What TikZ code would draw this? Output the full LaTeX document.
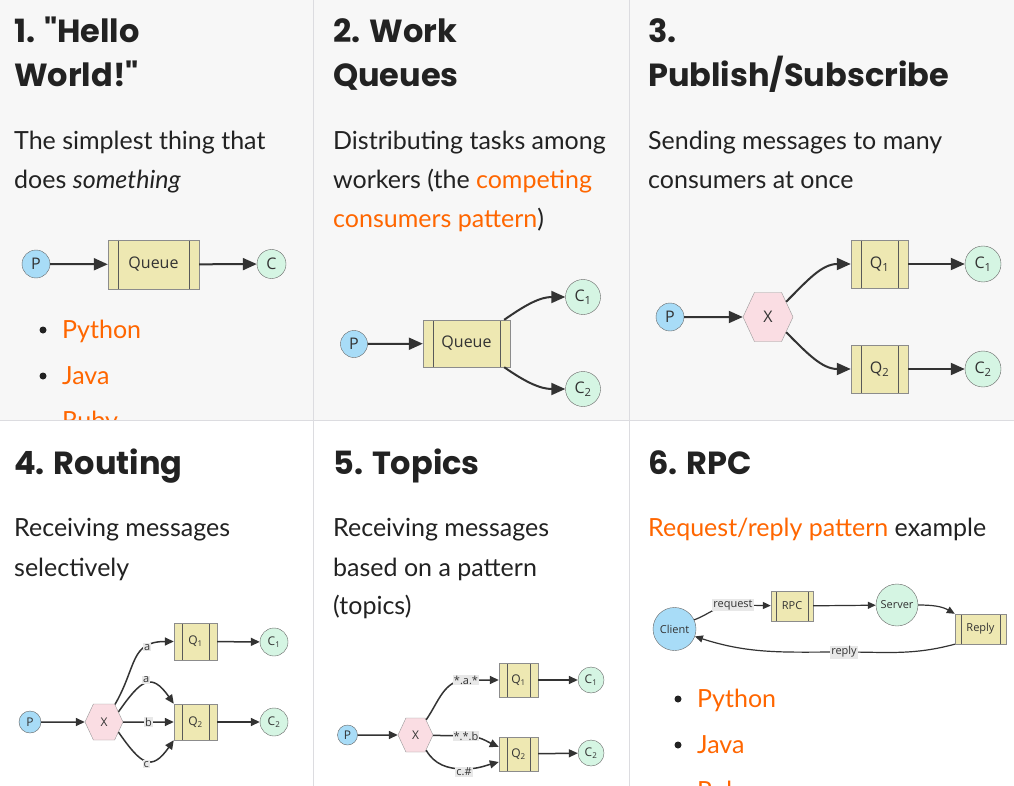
\documentclass[tikz,border=0pt]{standalone}
\usepackage{fontspec}
\setmainfont{Lato}
\newfontfamily\headfont{Poppins}
\newfontfamily\diafont{Open Sans}
\usetikzlibrary{arrows.meta,shapes.symbols}

\definecolor{pagebg}{HTML}{F7F7F7}
\definecolor{rulegray}{HTML}{DCDCE0}
\definecolor{inkdark}{HTML}{222222}
\definecolor{linkorange}{HTML}{FF6600}
\definecolor{prodblue}{HTML}{A8DCF7}
\definecolor{consgreen}{HTML}{D5F5E3}
\definecolor{queuekhaki}{HTML}{EEE8B2}
\definecolor{exchpink}{HTML}{FADDE3}
\definecolor{edgeink}{HTML}{333333}
\definecolor{keygray}{HTML}{E8E8E8}

\begin{document}
\begin{tikzpicture}[
    x=1pt, y=1pt,
    head/.style={anchor=base west, inner sep=0, text=inkdark,
        font=\headfont\fontsize{32}{36}\selectfont\bfseries},
    body/.style={anchor=base west, inner sep=0, text=inkdark,
        font=\fontsize{25}{30}\selectfont},
    link/.style={body, text=linkorange},
    dot/.style={circle, fill=inkdark, inner sep=0, minimum size=7pt},
    prod/.style={circle, draw=black!60, fill=prodblue, inner sep=0, text=edgeink},
    cons/.style={circle, draw=black!60, fill=consgreen, inner sep=0, text=edgeink},
    exch/.style={signal, signal to=east and west, signal pointer angle=130,
        draw=black!40, fill=exchpink, inner sep=0, text=edgeink},
    queue/.style={rectangle, draw=black!45, fill=queuekhaki, inner sep=0, text=edgeink,
        path picture={\draw[black!65]
            ([xshift=#1]path picture bounding box.north west) -- ([xshift=#1]path picture bounding box.south west)
            ([xshift=-#1]path picture bounding box.north east) -- ([xshift=-#1]path picture bounding box.south east);}},
    queue/.default=10pt,
    rkey/.style={fill=keygray, inner sep=1pt, text=edgeink,
        font=\diafont\fontsize{11}{12}\selectfont},
    flow/.style={draw=edgeink, line width=2pt, -{Triangle[length=14pt,width=12pt]}},
    flowsm/.style={draw=edgeink, line width=1.5pt, -{Triangle[length=9pt,width=8pt]}},
    flowxs/.style={draw=edgeink, line width=1.2pt, -{Triangle[length=8pt,width=7pt]}}
]
\useasboundingbox (0,0) rectangle (1014,-786);

% page and grid
\fill[pagebg] (0,0) rectangle (1014,-420);
\fill[white] (0,-420) rectangle (1014,-786);
\draw[rulegray, line width=1.5pt] (313.5,0) -- (313.5,-786);
\draw[rulegray, line width=1.5pt] (629.5,0) -- (629.5,-786);
\draw[rulegray, line width=1.5pt] (0,-420.5) -- (1014,-420.5);

% 1. Hello World
\node[head] (t1a) at (14,-43) {1. "Hello};
\node[head] (t1b) at (14,-87) {World!"};
\node[body] (d1a) at (14,-150) {The simplest thing that};
\node[body] (d1b) at (14,-189) {does \textit{something}};
\begin{scope}[every node/.append style={font=\diafont\fontsize{16}{18}\selectfont}]
    \node[prod, minimum size=28pt] (p1) at (36,-264) {P};
    \node[queue, minimum width=91pt, minimum height=49pt] (q1) at (153.5,-264.5) {Queue};
    \node[cons, minimum size=29pt] (c1) at (271.5,-264) {C};
    \draw[flow] (p1) -- (q1);
    \draw[flow] (q1) -- (c1);
\end{scope}
\node[dot] (b1a) at (43,-330) {};
\node[link] (l1a) at (62,-338) {Python};
\node[dot] (b1b) at (43,-376) {};
\node[link] (l1b) at (62,-384) {Java};
\begin{scope}
    \clip (0,0) rectangle (313,-419.5);
    \node[link] (l1c) at (62,-429) {Ruby};
\end{scope}

% 2. Work Queues
\node[head] (t2a) at (333,-43) {2. Work};
\node[head] (t2b) at (333,-87) {Queues};
\node[body] (d2a) at (333,-150) {Distributing tasks among};
\node[body] (d2b) at (333,-189) {workers (the \textcolor{linkorange}{competing}};
\node[link] (d2c) at (333,-228) {consumers pattern\textcolor{inkdark}{)}};
\begin{scope}[every node/.append style={font=\diafont\fontsize{16}{18}\selectfont}]
    \node[prod, minimum size=27pt] (p2) at (354,-344) {P};
    \node[queue, minimum width=87pt, minimum height=47pt] (q2) at (466.5,-343.5) {Queue};
    \node[cons, minimum size=35pt] (c21) at (583,-297) {C\textsubscript{1}};
    \node[cons, minimum size=35pt] (c22) at (583,-389) {C\textsubscript{2}};
    \draw[flow] (p2) -- (q2);
    \draw[flow] ([xshift=-6pt]q2.north east) to[out=35,in=180] (c21);
    \draw[flow] ([xshift=-6pt]q2.south east) to[out=-35,in=180] (c22);
\end{scope}

% 3. Publish/Subscribe
\node[head] (t3a) at (648,-43) {3.};
\node[head] (t3b) at (648,-87) {Publish/Subscribe};
\node[body] (d3a) at (648,-150) {Sending messages to many};
\node[body] (d3b) at (648,-189) {consumers at once};
\begin{scope}[every node/.append style={font=\diafont\fontsize{16}{18}\selectfont}]
    \node[prod, minimum size=28pt] (p3) at (670,-317) {P};
    \node[exch, minimum width=50pt, minimum height=49pt] (x3) at (768,-317) {X};
    \node[queue, minimum width=57pt, minimum height=48pt] (q31) at (879.5,-264) {Q\textsubscript{1}};
    \node[queue, minimum width=57pt, minimum height=48pt] (q32) at (879.5,-369) {Q\textsubscript{2}};
    \node[cons, minimum size=36pt] (c31) at (983,-264) {C\textsubscript{1}};
    \node[cons, minimum size=36pt] (c32) at (983,-369) {C\textsubscript{2}};
    \draw[flow] (p3) -- (x3);
    \draw[flow] (x3.40) to[out=45,in=180] (q31);
    \draw[flow] (x3.-40) to[out=-45,in=180] (q32);
    \draw[flow] (q31) -- (c31);
    \draw[flow] (q32) -- (c32);
\end{scope}

% 4. Routing
\node[head] (t4) at (14,-474) {4. Routing};
\node[body] (d4a) at (14,-536) {Receiving messages};
\node[body] (d4b) at (14,-576) {selectively};
\begin{scope}[every node/.append style={font=\diafont\fontsize{12}{14}\selectfont}]
    \node[prod, minimum size=22pt] (p4) at (30,-722) {P};
    \node[exch, minimum width=38pt, minimum height=36pt] (x4) at (104,-722) {X};
    \node[queue=8pt, minimum width=43pt, minimum height=37pt] (q41) at (195.5,-641.5) {Q\textsubscript{1}};
    \node[queue=8pt, minimum width=43pt, minimum height=36pt] (q42) at (195.5,-722) {Q\textsubscript{2}};
    \node[cons, minimum size=28pt] (c41) at (274,-642) {C\textsubscript{1}};
    \node[cons, minimum size=28pt] (c42) at (274,-722) {C\textsubscript{2}};
    \draw[flowsm] (p4) -- (x4);
    \draw[flowsm] (x4.58) to[out=60,in=180,looseness=1.3] node[rkey,pos=0.72]{a} (q41);
    \draw[flowsm] (x4.35) to[out=55,in=125,looseness=1.8] node[rkey,pos=0.5,above=-1pt]{a} (q42.north west);
    \draw[flowsm] (x4) -- node[rkey]{b} (q42);
    \draw[flowsm] (x4.-35) to[out=-55,in=-125,looseness=1.8] node[rkey,pos=0.5,below=-1pt]{c} (q42.south west);
    \draw[flowsm] (q41) -- (c41);
    \draw[flowsm] (q42) -- (c42);
\end{scope}

% 5. Topics
\node[head] (t5) at (333,-474) {5. Topics};
\node[body] (d5a) at (333,-536) {Receiving messages};
\node[body] (d5b) at (333,-576) {based on a pattern};
\node[body] (d5c) at (333,-614) {(topics)};
\begin{scope}[every node/.append style={font=\diafont\fontsize{12}{14}\selectfont}]
    \node[prod, minimum size=20pt] (p5) at (347.5,-735) {P};
    \node[exch, minimum width=35pt, minimum height=34pt] (x5) at (415.5,-735) {X};
    \node[queue=8pt, minimum width=39pt, minimum height=34pt] (q51) at (518.5,-680) {Q\textsubscript{1}};
    \node[queue=8pt, minimum width=39pt, minimum height=34pt] (q52) at (518.5,-754) {Q\textsubscript{2}};
    \node[cons, minimum size=26pt] (c51) at (591,-680) {C\textsubscript{1}};
    \node[cons, minimum size=26pt] (c52) at (591,-753) {C\textsubscript{2}};
    \coordinate (k51) at (466,-680);
    \coordinate (k52) at (466,-736);
    \coordinate (k53) at (464,-769);
    \draw[flowsm] (p5) -- (x5);
    \draw[flowsm] (x5.55) to[out=55,in=180] (k51) node[rkey]{*.a.*} -- (q51);
    \draw[flowsm] (x5) -- (k52) node[rkey]{*.*.b} to[out=0,in=155] ([yshift=7pt]q52.west);
    \draw[flowsm] (x5.-55) to[out=-60,in=180] (k53) node[rkey,yshift=-3pt]{c.\#} to[out=0,in=195] ([yshift=-8pt]q52.west);
    \draw[flowsm] (q51) -- (c51);
    \draw[flowsm] (q52) -- (c52);
\end{scope}

% 6. RPC
\node[head] (t6) at (648,-474) {6. RPC};
\node[body] (d6) at (648,-536) {\textcolor{linkorange}{Request/reply pattern} example};
\begin{scope}[every node/.append style={font=\diafont\fontsize{11}{13}\selectfont}]
    \node[prod, minimum size=43pt] (cl) at (674.5,-629) {Client};
    \node[queue=5pt, minimum width=42pt, minimum height=30pt] (rpc) at (792,-606) {RPC};
    \node[cons, minimum size=42pt] (srv) at (897,-605) {Server};
    \node[queue=6pt, minimum width=51pt, minimum height=30pt] (rep) at (980.5,-629) {Reply};
    \coordinate (kreq) at (733,-605);
    \coordinate (krep) at (844,-652);
    \draw[flowxs] (cl.25) to[out=20,in=180] (kreq) node[rkey]{request} -- (rpc);
    \draw[flowxs] (rpc) -- (srv);
    \draw[flowxs] (srv.east) to[out=0,in=150] (rep.north west);
    \draw[flowxs] (rep.south west) to[out=195,in=0] (krep) node[rkey]{reply} to[out=180,in=-18] (cl.-20);
\end{scope}
\node[dot] (b6a) at (678,-699) {};
\node[link] (l6a) at (697,-707) {Python};
\node[dot] (b6b) at (678,-745) {};
\node[link] (l6b) at (697,-753) {Java};
\begin{scope}
    \clip (629,-420) rectangle (1014,-786);
    \node[link] (l6c) at (697,-799) {Ruby};
\end{scope}

\end{tikzpicture}
\end{document}
